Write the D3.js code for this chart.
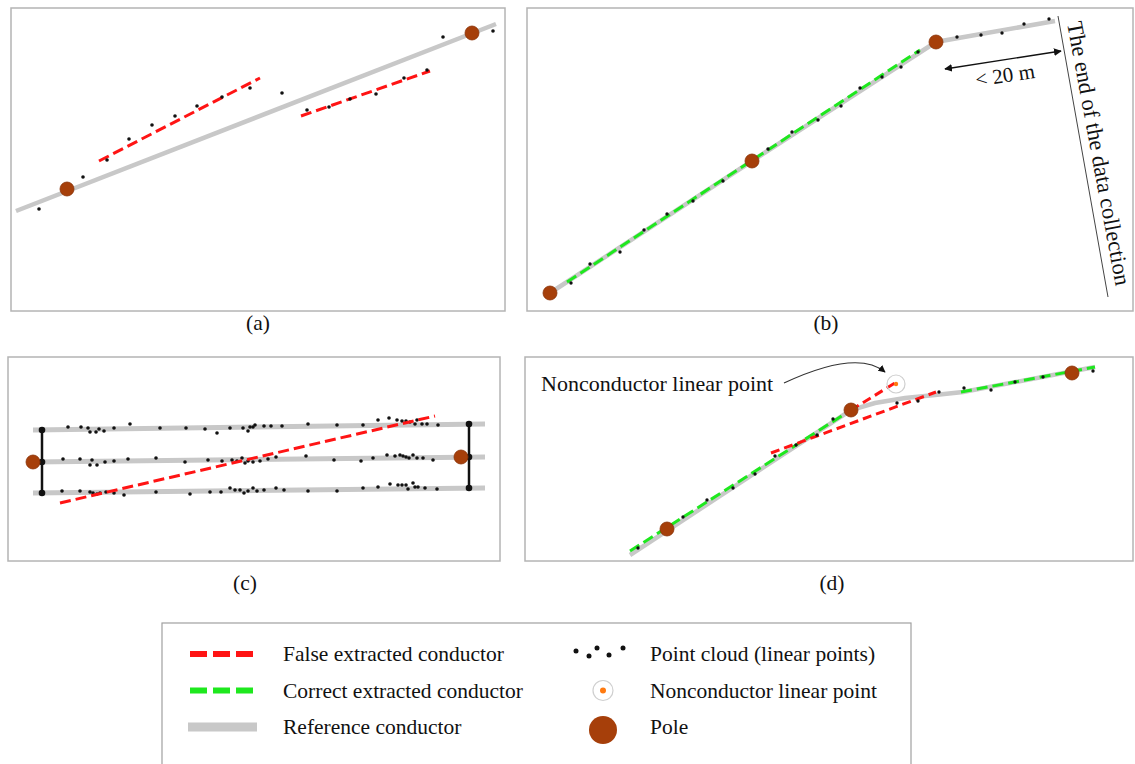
<!DOCTYPE html>
<html>
<head>
<meta charset="utf-8">
<script src="https://cdn.jsdelivr.net/npm/d3@7"></script>
<style>
  body { margin: 0; background: #fff; }
  text { font-family: "Liberation Serif", "Times New Roman", serif; fill: #111; }
</style>
</head>
<body>
<svg id="fig" width="1135" height="764"></svg>
<script>
// ---- data, in local panel units (origin bottom-left, y up) ----

// panel (a)
var aReference = [[5, 100], [485, 287]];
var aFalse = [[[88, 150], [249, 233]], [[290, 195], [419, 240]]];
var aPoles = [[56, 122], [461, 278]];
var aPoints = [[28, 102], [72, 134], [96, 151], [118, 172], [141, 186], [164, 195], [186, 205],
  [211, 214], [239, 223], [271, 218], [296, 201], [318, 204], [339, 212], [365, 217],
  [393, 233], [416, 241], [432, 274], [482, 280]];

// panel (b)
var bReference = [[23, 18], [225, 150], [409, 269], [528, 290]];
var bCorrect = [[[40, 29], [393, 261]]];
var bPoles = [[23, 18], [225, 150], [409, 269]];
var bPoints = [[44, 28], [63, 47], [93, 59], [117, 81], [140, 97], [166, 110], [196, 130],
  [241, 162], [265, 179], [291, 191], [314, 205], [333, 223], [355, 234], [374, 244],
  [391, 259], [430, 274], [454, 276], [475, 278], [497, 287], [522, 292]];
var bEndLine = [[531, 295], [581, 14]];
var bArrow = [[418, 242], [534, 260]];
var bDistLabel = "< 20 m";
var bEndLabel = "The end of the data collection";

// panel (c): three phase conductors
var cReference = [
  [[25, 131], [477, 137]],
  [[25, 99], [477, 104]],
  [[25, 68], [477, 73]]
];
var cFalse = [[[52, 58], [427, 145]]];
var cPoles = [[25, 99], [453, 104]];
var cCrossArms = [
  [[34, 131], [34, 99], [34, 68]],
  [[461, 137], [461, 104], [461, 73]]
];
var cPoints = [
  // top conductor
  [60, 134], [73, 134], [80, 133], [82, 129], [88, 129], [91, 132], [96, 130], [106, 133],
  [122, 137], [152, 133], [178, 133], [197, 132], [209, 128], [222, 133], [235, 133],
  [240, 130], [242, 134], [245, 134], [247, 136], [256, 135], [263, 135], [274, 135],
  [300, 137], [329, 136], [355, 136], [370, 141], [381, 143], [389, 141], [394, 140],
  [398, 140], [402, 139], [407, 137], [409, 141], [414, 137], [419, 137], [430, 136],
  // middle conductor
  [55, 102], [72, 102], [82, 96], [84, 101], [89, 96], [97, 99], [106, 100], [120, 102],
  [148, 103], [177, 99], [200, 101], [214, 100], [224, 101], [229, 100], [234, 103],
  [237, 98], [240, 100], [245, 99], [252, 100], [260, 102], [268, 104], [298, 105],
  [326, 101], [353, 100], [365, 103], [379, 106], [387, 105], [392, 106], [395, 105],
  [398, 104], [401, 103], [405, 106], [409, 103], [415, 103], [425, 101],
  // bottom conductor
  [54, 70], [72, 70], [82, 69], [85, 68], [89, 67], [92, 68], [98, 69], [106, 68],
  [116, 66], [148, 69], [182, 67], [202, 69], [213, 69], [222, 73], [227, 71], [232, 71],
  [236, 68], [240, 70], [245, 73], [249, 70], [256, 71], [268, 73], [276, 71], [300, 70],
  [329, 70], [355, 73], [370, 74], [382, 77], [390, 76], [394, 76], [398, 76], [400, 72],
  [405, 78], [407, 74], [410, 74], [417, 73], [429, 72]
];

// panel (d)
var dReference = [[105, 6], [326, 151], [350, 158], [380, 163], [410, 166], [438, 169], [570, 194]];
var dCorrect = [[[105, 10], [326, 151]], [[436, 169], [570, 194]]];
var dFalse = [[[246, 108], [411, 169]], [[326, 151], [370, 178]]];
var dPoles = [[142, 32], [326, 151], [547, 188]];
var dPoints = [[113, 13], [158, 44], [182, 61], [208, 73], [230, 87], [250, 105], [271, 116],
  [292, 126], [308, 142], [372, 158], [393, 160], [414, 169], [439, 173], [466, 171],
  [490, 179], [518, 184], [568, 190]];
var dOutlier = [371, 177];
var dCallout = { text: "Nonconductor linear point", at: [16, 170], from: [259, 178], ctrl: [332, 212], to: [360, 189] };

// legend
var legendLines = [
  { label: "False extracted conductor", kind: "false" },
  { label: "Correct extracted conductor", kind: "correct" },
  { label: "Reference conductor", kind: "reference" }
];
var legendSymbols = [
  { label: "Point cloud  (linear points)", kind: "points" },
  { label: "Nonconductor linear point", kind: "outlier" },
  { label: "Pole", kind: "pole" }
];
var legendCloud = [[0, 2], [13, 7], [21, -1], [33, 6], [47, -1]];

var panelLabels = ["(a)", "(b)", "(c)", "(d)"];

// ---- styles ----
var C = {
  grey: "#c8c8c8", red: "#ff1414", green: "#1ee81e", pole: "#a63f0a",
  frame: "#b4b4b4", dot: "#111"
};
var FS = 21.5;

var svg = d3.select("#fig");
svg.append("rect").attr("width", 1135).attr("height", 764).attr("fill", "#fff");

var defs = svg.append("defs");
defs.append("marker").attr("id", "arrow")
    .attr("viewBox", "0 0 10 10").attr("refX", 9).attr("refY", 5)
    .attr("markerWidth", 6).attr("markerHeight", 6)
    .attr("orient", "auto-start-reverse")
  .append("path").attr("d", "M0,0L10,5L0,10z").attr("fill", "#111");

function panel(x0, y0, w, h, labelX, labelY, label) {
  var g = svg.append("g");
  g.append("rect").attr("x", x0).attr("y", y0).attr("width", w).attr("height", h)
    .attr("fill", "none").attr("stroke", C.frame).attr("stroke-width", 1.5);
  svg.append("text").attr("x", labelX).attr("y", labelY).attr("text-anchor", "middle")
    .attr("font-size", FS).text(label);
  var x = d3.scaleLinear().domain([0, w]).range([x0, x0 + w]);
  var y = d3.scaleLinear().domain([0, h]).range([y0 + h, y0]);
  var line = d3.line().x(d => x(d[0])).y(d => y(d[1]));
  return { g: g, x: x, y: y, line: line };
}

function drawPath(p, pts, color, width, dash, curve) {
  var ln = curve ? p.line.curve(curve) : p.line.curve(d3.curveLinear);
  p.g.append("path").attr("d", ln(pts)).attr("fill", "none")
    .attr("stroke", color).attr("stroke-width", width)
    .attr("stroke-dasharray", dash || null).attr("stroke-linecap", "butt");
}

function drawPoints(p, pts, r) {
  p.g.selectAll(null).data(pts).enter().append("circle")
    .attr("cx", d => p.x(d[0])).attr("cy", d => p.y(d[1])).attr("r", r).attr("fill", C.dot);
}

function drawPoles(p, pts, r) {
  p.g.selectAll(null).data(pts).enter().append("circle")
    .attr("cx", d => p.x(d[0])).attr("cy", d => p.y(d[1])).attr("r", r)
    .attr("fill", C.pole).attr("stroke", "#8a3208").attr("stroke-width", 0.8);
}

// ---- (a) ----
var pa = panel(11, 8, 494, 303, 258, 330, panelLabels[0]);
drawPath(pa, aReference, C.grey, 4.5);
aFalse.forEach(s => drawPath(pa, s, C.red, 3, "11,5"));
drawPoints(pa, aPoints, 1.8);
drawPoles(pa, aPoles, 7);

// ---- (b) ----
var pb = panel(527, 8, 606, 303, 826, 330, panelLabels[1]);
drawPath(pb, bReference, C.grey, 4.5);
bCorrect.forEach(s => drawPath(pb, s, C.green, 3, "11,5"));
drawPoints(pb, bPoints, 1.7);
drawPoles(pb, bPoles, 7);
drawPath(pb, bEndLine, "#444", 1);
pb.g.append("path").attr("d", pb.line.curve(d3.curveLinear)(bArrow))
  .attr("stroke", "#111").attr("stroke-width", 1.3).attr("fill", "none")
  .attr("marker-start", "url(#arrow)").attr("marker-end", "url(#arrow)");
var bMid = [(bArrow[0][0] + bArrow[1][0]) / 2 + 2, (bArrow[0][1] + bArrow[1][1]) / 2 - 15];
pb.g.append("text")
  .attr("transform", "translate(" + pb.x(bMid[0]) + "," + pb.y(bMid[1]) + ") rotate(-8.5)")
  .attr("text-anchor", "middle").attr("dy", "0.35em").attr("font-size", 21).text(bDistLabel);
pb.g.append("text")
  .attr("transform", "translate(" + pb.x(540) + "," + pb.y(288) + ") rotate(79.5)")
  .attr("font-size", 22.5).text(bEndLabel);

// ---- (c) ----
var pc = panel(8, 357, 492, 204, 245, 590, panelLabels[2]);
cReference.forEach(s => drawPath(pc, s, C.grey, 5));
cCrossArms.forEach(function (arm) {
  drawPath(pc, [arm[0], arm[2]], "#111", 2.5);
  drawPoints(pc, arm, 3.3);
});
drawPoints(pc, cPoints, 1.8);
drawPath(pc, cFalse[0], C.red, 3, "11,5");
drawPoles(pc, cPoles, 7);

// ---- (d) ----
var pd = panel(525, 357, 608, 204, 832, 590, panelLabels[3]);
drawPath(pd, dReference, C.grey, 4.5);
dCorrect.forEach(s => drawPath(pd, s, C.green, 3, "11,5"));
dFalse.forEach(s => drawPath(pd, s, C.red, 3, "9,5"));
drawPoints(pd, dPoints, 1.7);
drawPoles(pd, dPoles, 7);
pd.g.append("circle").attr("cx", pd.x(dOutlier[0])).attr("cy", pd.y(dOutlier[1])).attr("r", 9)
  .attr("fill", "none").attr("stroke", "#cfcfcf").attr("stroke-width", 1.2);
pd.g.append("circle").attr("cx", pd.x(dOutlier[0])).attr("cy", pd.y(dOutlier[1])).attr("r", 2.2)
  .attr("fill", "#ff7a10");
pd.g.append("text").attr("x", pd.x(dCallout.at[0])).attr("y", pd.y(dCallout.at[1]))
  .attr("font-size", 22).text(dCallout.text);
var cp = d3.path();
cp.moveTo(pd.x(dCallout.from[0]), pd.y(dCallout.from[1]));
cp.quadraticCurveTo(pd.x(dCallout.ctrl[0]), pd.y(dCallout.ctrl[1]), pd.x(dCallout.to[0]), pd.y(dCallout.to[1]));
pd.g.append("path").attr("d", cp.toString()).attr("fill", "none")
  .attr("stroke", "#333").attr("stroke-width", 1.2).attr("marker-end", "url(#arrow)");

// ---- legend ----
var lg = svg.append("g");
lg.append("rect").attr("x", 162).attr("y", 623).attr("width", 749).attr("height", 160)
  .attr("fill", "#fff").attr("stroke", "#a0a0a0").attr("stroke-width", 1.2);
var rowY = d3.scalePoint().domain([0, 1, 2]).range([654, 727]);

legendLines.forEach(function (d, i) {
  var yy = rowY(i);
  var col = d.kind === "false" ? C.red : d.kind === "correct" ? C.green : C.grey;
  lg.append("line").attr("x1", d.kind === "reference" ? 188 : 190).attr("x2", 257)
    .attr("y1", yy).attr("y2", yy).attr("stroke", col)
    .attr("stroke-width", d.kind === "reference" ? 9 : 6)
    .attr("stroke-dasharray", d.kind === "reference" ? null : "17,6");
  lg.append("text").attr("x", 283).attr("y", yy).attr("dy", "0.33em").attr("font-size", FS).text(d.label);
});

legendSymbols.forEach(function (d, i) {
  var yy = rowY(i);
  if (d.kind === "points") {
    lg.selectAll(null).data(legendCloud).enter().append("circle")
      .attr("cx", p => 576 + p[0]).attr("cy", p => yy - 5 + p[1]).attr("r", 2.5).attr("fill", C.dot);
  } else if (d.kind === "outlier") {
    lg.append("circle").attr("cx", 603).attr("cy", yy).attr("r", 10)
      .attr("fill", "#fff").attr("stroke", "#cfcfcf").attr("stroke-width", 1.2);
    lg.append("circle").attr("cx", 603).attr("cy", yy).attr("r", 3).attr("fill", "#ff7a10");
  } else {
    lg.append("circle").attr("cx", 603).attr("cy", yy + 3).attr("r", 14).attr("fill", C.pole);
  }
  lg.append("text").attr("x", 650).attr("y", yy).attr("dy", "0.33em").attr("font-size", FS).text(d.label);
});
</script>
</body>
</html>
